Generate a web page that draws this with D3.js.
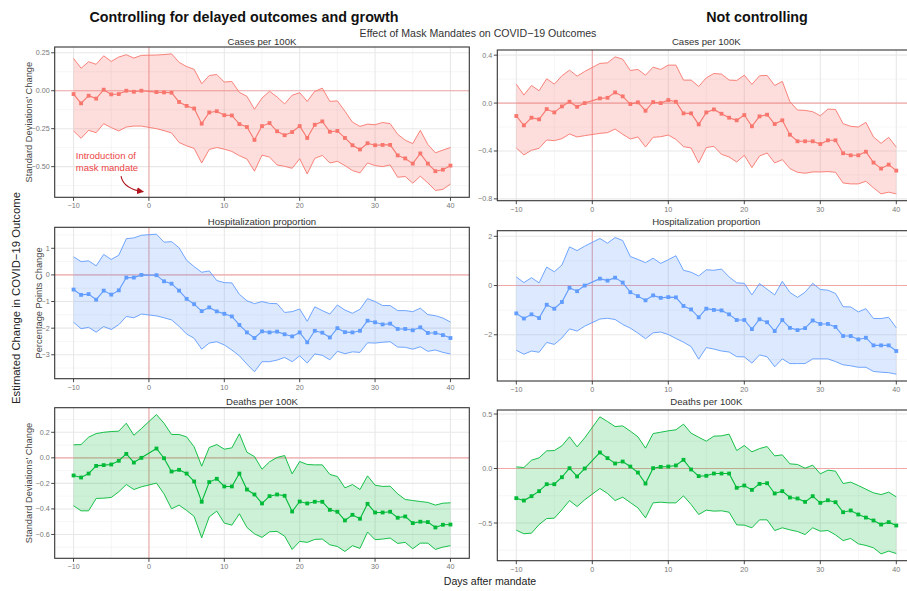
<!DOCTYPE html>
<html><head><meta charset="utf-8">
<script src="https://cdn.jsdelivr.net/npm/d3@7/dist/d3.min.js"></script>
<style>body{margin:0;background:#fff}svg text{font-family:"Liberation Sans",Arial,Helvetica,sans-serif}</style>
</head><body><svg id="c" width="907" height="591"></svg>
<script>
// ---------------- DATA ----------------
const days = [-10,-9,-8,-7,-6,-5,-4,-3,-2,-1,1,2,3,4,5,6,7,8,9,10,11,12,13,14,15,16,17,18,19,20,21,22,23,24,25,26,27,28,29,30,31,32,33,34,35,36,37,38,39,40];
const xTicks = [-10,0,10,20,30,40];

// Cases per 100K, controlling
const casesCtrlMid = [-0.022,-0.083,-0.033,-0.052,0.007,-0.024,-0.022,0.0,-0.007,0.0,
 -0.009,-0.011,-0.013,-0.074,-0.1,-0.117,-0.217,-0.143,-0.135,-0.161,-0.163,-0.22,-0.239,-0.324,-0.233,-0.213,-0.267,-0.293,-0.272,-0.233,-0.311,-0.224,-0.202,-0.27,-0.265,-0.311,-0.359,-0.387,-0.346,-0.359,-0.357,-0.357,-0.426,-0.446,-0.48,-0.413,-0.48,-0.53,-0.52,-0.493];
const casesCtrlHi = [0.213,0.148,0.191,0.174,0.23,0.193,0.222,0.237,0.215,0.233,
 0.235,0.238,0.243,0.187,0.159,0.141,0.046,0.1,0.107,0.057,0.061,-0.011,-0.037,-0.122,-0.048,-0.004,-0.041,-0.087,-0.03,-0.013,-0.07,-0.004,0.017,-0.07,-0.067,-0.135,-0.207,-0.235,-0.22,-0.224,-0.209,-0.217,-0.287,-0.326,-0.348,-0.261,-0.354,-0.409,-0.391,-0.374];
const casesCtrlLo = [-0.265,-0.313,-0.261,-0.276,-0.217,-0.243,-0.265,-0.239,-0.233,-0.233,
 -0.25,-0.263,-0.278,-0.341,-0.363,-0.38,-0.476,-0.387,-0.374,-0.385,-0.4,-0.428,-0.45,-0.53,-0.424,-0.437,-0.489,-0.498,-0.511,-0.448,-0.548,-0.446,-0.426,-0.476,-0.465,-0.493,-0.526,-0.541,-0.476,-0.493,-0.5,-0.489,-0.57,-0.565,-0.609,-0.563,-0.607,-0.657,-0.65,-0.615];

// Cases per 100K, not controlling
const casesRawMid = [-0.108,-0.186,-0.122,-0.136,-0.05,-0.078,-0.028,0.011,-0.031,0,
 0.039,0.044,0.089,0.056,-0.008,0.006,-0.064,0.008,0,0.025,0.011,-0.086,-0.086,-0.178,-0.078,-0.053,-0.089,-0.122,-0.144,-0.1,-0.194,-0.111,-0.097,-0.175,-0.144,-0.264,-0.319,-0.319,-0.319,-0.342,-0.311,-0.311,-0.419,-0.436,-0.436,-0.406,-0.497,-0.547,-0.514,-0.564];
const casesRawHi = [0.158,0.067,0.147,0.103,0.203,0.158,0.228,0.275,0.225,0.264,
 0.331,0.336,0.386,0.367,0.272,0.281,0.233,0.3,0.281,0.317,0.317,0.192,0.192,0.139,0.211,0.247,0.242,0.192,0.189,0.233,0.156,0.228,0.231,0.147,0.181,0.011,-0.058,-0.061,-0.072,-0.106,-0.05,-0.053,-0.172,-0.194,-0.2,-0.161,-0.283,-0.336,-0.286,-0.369];
const casesRawLo = [-0.375,-0.433,-0.394,-0.378,-0.308,-0.314,-0.297,-0.258,-0.283,-0.272,
 -0.253,-0.247,-0.217,-0.261,-0.3,-0.283,-0.367,-0.286,-0.281,-0.267,-0.303,-0.364,-0.375,-0.5,-0.372,-0.361,-0.428,-0.45,-0.492,-0.436,-0.539,-0.442,-0.417,-0.5,-0.472,-0.547,-0.578,-0.586,-0.575,-0.575,-0.572,-0.578,-0.667,-0.675,-0.675,-0.653,-0.708,-0.758,-0.744,-0.758];

// Hospitalization proportion, controlling
const hospCtrlMid = [-0.55,-0.75,-0.72,-0.93,-0.59,-0.74,-0.58,-0.1,-0.1,0,
 -0.01,-0.24,-0.33,-0.59,-0.9,-1.1,-1.36,-1.22,-1.37,-1.46,-1.56,-1.88,-2.16,-2.37,-2.12,-2.16,-2.13,-2.23,-2.31,-2.16,-2.53,-2.1,-2.17,-2.35,-2.0,-2.15,-2.16,-2.1,-1.72,-1.78,-1.86,-1.83,-2.03,-2.03,-2.08,-1.97,-2.18,-2.18,-2.26,-2.37];
const hospCtrlHi = [0.68,0.5,0.53,0.34,0.77,0.58,0.74,1.36,1.39,1.49,
 1.53,1.23,1.25,1.02,0.55,0.31,0.1,0.15,-0.21,-0.29,-0.3,-0.73,-0.97,-1.08,-1.0,-1.07,-1.08,-1.41,-1.38,-1.28,-1.74,-1.2,-1.34,-1.47,-1.13,-1.32,-1.44,-1.29,-0.89,-1.0,-1.15,-1.15,-1.34,-1.34,-1.38,-1.25,-1.49,-1.53,-1.62,-1.77];
const hospCtrlLo = [-1.78,-2.02,-1.97,-2.15,-1.94,-2.05,-1.87,-1.56,-1.61,-1.47,
 -1.54,-1.61,-1.69,-1.93,-2.22,-2.38,-2.79,-2.56,-2.51,-2.63,-2.82,-3.04,-3.35,-3.64,-3.26,-3.26,-3.2,-3.1,-3.26,-3.04,-3.31,-2.97,-3.02,-3.19,-2.87,-2.96,-2.89,-2.91,-2.55,-2.56,-2.53,-2.51,-2.71,-2.72,-2.79,-2.7,-2.87,-2.82,-2.91,-2.97];

// Hospitalization proportion, not controlling
const hospRawMid = [-1.13,-1.34,-1.17,-1.32,-0.78,-0.94,-0.67,-0.09,-0.23,0,
 0.28,0.2,0.32,0.12,-0.27,-0.43,-0.6,-0.4,-0.5,-0.47,-0.48,-0.83,-0.97,-1.29,-0.94,-0.99,-1.01,-1.17,-1.4,-1.4,-1.77,-1.37,-1.49,-1.85,-1.4,-1.72,-1.81,-1.73,-1.42,-1.56,-1.56,-1.68,-2.05,-2.05,-2.19,-2.12,-2.43,-2.43,-2.43,-2.66];
const hospRawHi = [0.35,0.12,0.32,0.11,0.75,0.56,0.83,1.57,1.42,1.6,
 1.91,1.72,1.95,1.83,1.18,1.06,0.93,1.11,0.9,1.05,1.21,0.62,0.54,0.39,0.64,0.62,0.67,0.35,0.11,0.09,-0.38,0.08,-0.15,-0.38,0.17,-0.28,-0.48,-0.27,0.09,-0.16,-0.19,-0.32,-0.86,-0.87,-1.07,-0.94,-1.34,-1.34,-1.29,-1.72];
const hospRawLo = [-2.63,-2.79,-2.66,-2.71,-2.31,-2.39,-2.13,-1.76,-1.85,-1.65,
 -1.36,-1.33,-1.38,-1.58,-1.73,-1.93,-2.16,-1.92,-1.89,-1.99,-2.15,-2.3,-2.48,-2.99,-2.52,-2.58,-2.66,-2.7,-2.89,-2.9,-3.15,-2.82,-2.89,-3.3,-2.98,-3.17,-3.17,-3.17,-2.98,-2.98,-2.98,-3.09,-3.22,-3.26,-3.32,-3.32,-3.49,-3.52,-3.54,-3.6];

// Deaths per 100K, controlling
const deathsCtrlMid = [-0.138,-0.154,-0.123,-0.063,-0.057,-0.052,-0.023,0.031,-0.037,0,
 0.073,-0.003,-0.107,-0.094,-0.123,-0.185,-0.344,-0.19,-0.164,-0.224,-0.224,-0.123,-0.248,-0.287,-0.357,-0.3,-0.287,-0.297,-0.42,-0.342,-0.357,-0.344,-0.344,-0.407,-0.422,-0.49,-0.446,-0.477,-0.36,-0.428,-0.428,-0.422,-0.469,-0.459,-0.511,-0.5,-0.503,-0.545,-0.524,-0.522];
const deathsCtrlHi = [0.102,0.104,0.162,0.19,0.2,0.206,0.209,0.271,0.177,0.229,
 0.339,0.271,0.183,0.183,0.164,0.086,-0.065,0.081,0.104,0.068,0.078,0.188,0.044,0.01,-0.089,-0.031,0.003,0.018,-0.125,-0.029,-0.052,-0.055,-0.055,-0.13,-0.146,-0.235,-0.209,-0.248,-0.141,-0.214,-0.224,-0.222,-0.282,-0.326,-0.334,-0.342,-0.349,-0.37,-0.355,-0.352];
const deathsCtrlLo = [-0.375,-0.415,-0.415,-0.318,-0.316,-0.31,-0.266,-0.209,-0.248,-0.227,
 -0.198,-0.282,-0.399,-0.37,-0.412,-0.459,-0.626,-0.462,-0.417,-0.511,-0.527,-0.438,-0.545,-0.595,-0.623,-0.579,-0.576,-0.613,-0.717,-0.654,-0.662,-0.639,-0.636,-0.681,-0.694,-0.733,-0.688,-0.709,-0.581,-0.641,-0.636,-0.628,-0.67,-0.662,-0.712,-0.668,-0.668,-0.717,-0.699,-0.688];

// Deaths per 100K, not controlling
const deathsRawMid = [-0.272,-0.294,-0.254,-0.208,-0.144,-0.144,-0.08,0.003,-0.073,0,
 0.147,0.095,0.046,0.064,0.018,-0.037,-0.138,0.003,0.015,0.018,0.028,0.08,-0.009,-0.07,-0.067,-0.046,-0.046,-0.046,-0.177,-0.156,-0.196,-0.141,-0.135,-0.229,-0.208,-0.266,-0.275,-0.306,-0.254,-0.315,-0.291,-0.309,-0.401,-0.385,-0.422,-0.45,-0.477,-0.514,-0.492,-0.523];
const deathsRawHi = [0.015,0.009,0.076,0.098,0.162,0.165,0.208,0.291,0.199,0.281,
 0.474,0.431,0.385,0.391,0.343,0.291,0.187,0.321,0.333,0.346,0.355,0.407,0.324,0.287,0.251,0.297,0.3,0.315,0.165,0.211,0.153,0.183,0.202,0.116,0.125,0.043,0.037,0.003,0.031,-0.049,-0.015,-0.024,-0.138,-0.125,-0.156,-0.19,-0.223,-0.239,-0.217,-0.26];
const deathsRawLo = [-0.566,-0.599,-0.593,-0.514,-0.459,-0.456,-0.379,-0.294,-0.349,-0.287,
 -0.183,-0.229,-0.294,-0.263,-0.312,-0.361,-0.453,-0.315,-0.309,-0.315,-0.315,-0.251,-0.33,-0.422,-0.382,-0.391,-0.388,-0.401,-0.517,-0.52,-0.544,-0.471,-0.471,-0.569,-0.544,-0.563,-0.578,-0.606,-0.544,-0.575,-0.569,-0.609,-0.661,-0.642,-0.691,-0.706,-0.728,-0.783,-0.758,-0.78];

const yTicksCasesCtrl = [-0.5,-0.25,0,0.25];
const yTicksCasesRaw = [-0.8,-0.4,0,0.4];
const yTicksHospCtrl = [-3,-2,-1,0,1];
const yTicksHospRaw = [-2,0,2];
const yTicksDeathsCtrl = [-0.6,-0.4,-0.2,0,0.2];
const yTicksDeathsRaw = [-0.5,0,0.5];

const panelTitles = ["Cases per 100K","Hospitalization proportion","Deaths per 100K"];
const rowYTitles = ["Standard Deviations\u2019 Change","Percentage Points Change","Standard Deviations\u2019 Change"];
const columnTitles = ["Controlling for delayed outcomes and growth","Not controlling"];
const mainTitle = "Effect of Mask Mandates on COVID\u221219 Outcomes";
const yTitleAll = "Estimated Change in COVID\u221219 Outcome";
const xTitleAll = "Days after mandate";
const annotLines = ["Introduction of","mask mandate"];
// annotation anchor in data units of the first panel
const annotText = {day:-9.7, v1:-0.45, v2:-0.527};
const annotArrow = {from:[-3.7,-0.562], ctrl:[-3.4,-0.645], to:[-0.75,-0.665]};

// ---------------- LAYOUT ----------------
const colX = [[54.7,469.3],[497.3,915.3]];
const rowYLeft = [[47,197.3],[227.3,378.7],[407.7,558.3]];
const rowYRight = [[50,200.7],[230.7,381],[410,560.7]];
const stripBaseline = [44.5,224.5,404.8];
const yTitleX = [29,39,29];

const colors = ["#F8766D","#619CFF","#00BA38"];
const fillOpacity = [0.24,0.22,0.2];

const panels = [
 {col:0,row:0,mid:casesCtrlMid,hi:casesCtrlHi,lo:casesCtrlLo,ticks:yTicksCasesCtrl,fmt:".2f"},
 {col:1,row:0,mid:casesRawMid,hi:casesRawHi,lo:casesRawLo,ticks:yTicksCasesRaw,fmt:".1f"},
 {col:0,row:1,mid:hospCtrlMid,hi:hospCtrlHi,lo:hospCtrlLo,ticks:yTicksHospCtrl,fmt:"d"},
 {col:1,row:1,mid:hospRawMid,hi:hospRawHi,lo:hospRawLo,ticks:yTicksHospRaw,fmt:"d"},
 {col:0,row:2,mid:deathsCtrlMid,hi:deathsCtrlHi,lo:deathsCtrlLo,ticks:yTicksDeathsCtrl,fmt:".1f"},
 {col:1,row:2,mid:deathsRawMid,hi:deathsRawHi,lo:deathsRawLo,ticks:yTicksDeathsRaw,fmt:".1f"}
];

const svg = d3.select("#c");
svg.append("rect").attr("width",907).attr("height",591).attr("fill","#fff");
const defs = svg.append("defs");
defs.append("marker").attr("id","arr").attr("viewBox","0 0 10 10").attr("refX",9).attr("refY",5)
  .attr("markerWidth",7).attr("markerHeight",7).attr("markerUnits","userSpaceOnUse").attr("orient","auto")
  .append("path").attr("d","M0,0L10,5L0,10z").attr("fill","#B0141C");

const xDomain = [-12.5, 42.5];

panels.forEach((p,i)=>{
  const [x0,x1] = colX[p.col];
  const [y0,y1] = (p.col===0?rowYLeft:rowYRight)[p.row];
  const color = colors[p.row];
  const x = d3.scaleLinear().domain(xDomain).range([x0,x1]);
  const ext = d3.extent(p.lo.concat(p.hi, p.mid, [0]));
  const pad = (ext[1]-ext[0])*0.05;
  const y = d3.scaleLinear().domain([ext[0]-pad, ext[1]+pad]).range([y1,y0]);
  const g = svg.append("g");
  const cid = "clip"+i;
  defs.append("clipPath").attr("id",cid).append("rect").attr("x",x0).attr("y",y0).attr("width",x1-x0).attr("height",y1-y0);
  const pg = g.append("g").attr("clip-path",`url(#${cid})`);

  // minor grid
  const step = p.ticks[1]-p.ticks[0];
  const yMinor = [];
  for (let k=-1;k<p.ticks.length;k++){ const v = p.ticks[0]+step*(k+0.5); if (v>y.domain()[0] && v<y.domain()[1]) yMinor.push(v); }
  const xMinor = [-15,-5,5,15,25,35,45].filter(v=>v>xDomain[0]&&v<xDomain[1]);
  pg.selectAll(null).data(yMinor).join("line").attr("x1",x0).attr("x2",x1).attr("y1",d=>y(d)).attr("y2",d=>y(d)).attr("stroke","#F0F0F0").attr("stroke-width",0.6);
  pg.selectAll(null).data(xMinor).join("line").attr("y1",y0).attr("y2",y1).attr("x1",d=>x(d)).attr("x2",d=>x(d)).attr("stroke","#F0F0F0").attr("stroke-width",0.6);
  pg.selectAll(null).data(p.ticks).join("line").attr("x1",x0).attr("x2",x1).attr("y1",d=>y(d)).attr("y2",d=>y(d)).attr("stroke","#E8E8E8").attr("stroke-width",1.1);
  pg.selectAll(null).data(xTicks).join("line").attr("y1",y0).attr("y2",y1).attr("x1",d=>x(d)).attr("x2",d=>x(d)).attr("stroke","#E8E8E8").attr("stroke-width",1.1);

  // reference lines
  pg.append("line").attr("x1",x0).attr("x2",x1).attr("y1",y(0)).attr("y2",y(0)).attr("stroke","#F47C7C").attr("stroke-opacity",0.6).attr("stroke-width",1.1);
  pg.append("line").attr("y1",y0).attr("y2",y1).attr("x1",x(0)).attr("x2",x(0)).attr("stroke","#F47C7C").attr("stroke-opacity",0.6).attr("stroke-width",1.1);

  const rows = days.map((d,j)=>({day:d, mid:p.mid[j], lo:p.lo[j], hi:p.hi[j]}));
  pg.append("path").datum(rows).attr("d", d3.area().x(d=>x(d.day)).y0(d=>y(d.lo)).y1(d=>y(d.hi)))
    .attr("fill",color).attr("fill-opacity",fillOpacity[p.row]);
  ["lo","hi"].forEach(k=>{
    pg.append("path").datum(rows).attr("d", d3.line().x(d=>x(d.day)).y(d=>y(d[k])))
      .attr("fill","none").attr("stroke",color).attr("stroke-width",0.9);
  });
  pg.append("path").datum(rows).attr("d", d3.line().x(d=>x(d.day)).y(d=>y(d.mid)))
    .attr("fill","none").attr("stroke",color).attr("stroke-width",1.1);
  const s = 3.8;
  pg.selectAll(null).data(rows).join("rect").attr("x",d=>x(d.day)-s/2).attr("y",d=>y(d.mid)-s/2)
    .attr("width",s).attr("height",s).attr("fill",color);

  // border
  g.append("rect").attr("x",x0).attr("y",y0).attr("width",x1-x0).attr("height",y1-y0)
    .attr("fill","none").attr("stroke","#333").attr("stroke-width",1.1);

  // axes ticks + labels
  const fmt = d3.format(p.fmt);
  g.selectAll(null).data(p.ticks).join("line").attr("x1",x0-3.5).attr("x2",x0).attr("y1",d=>y(d)).attr("y2",d=>y(d)).attr("stroke","#333").attr("stroke-width",0.9);
  g.selectAll(null).data(p.ticks).join("text").attr("x",x0-5).attr("y",d=>y(d)).attr("dy","0.35em")
    .attr("text-anchor","end").attr("font-size",7.2).attr("fill","#777").text(d=>fmt(d));
  g.selectAll(null).data(xTicks).join("line").attr("y1",y1).attr("y2",y1+3.5).attr("x1",d=>x(d)).attr("x2",d=>x(d)).attr("stroke","#333").attr("stroke-width",0.9);
  g.selectAll(null).data(xTicks).join("text").attr("x",d=>x(d)).attr("y",y1+11)
    .attr("text-anchor","middle").attr("font-size",7.2).attr("fill","#777").text(d=>d3.format("d")(d));

  // strip title
  g.append("text").attr("x",(x0+x1)/2).attr("y",stripBaseline[p.row]).attr("text-anchor","middle")
    .attr("font-size",9.6).attr("fill","#333").text(panelTitles[p.row]);

  if (p.col===0){
    g.append("text").attr("transform",`translate(${yTitleX[p.row]},${(y0+y1)/2}) rotate(-90)`).attr("dy","0.35em")
      .attr("text-anchor","middle").attr("font-size",9.3).attr("fill","#444").text(rowYTitles[p.row]);
  }
  if (i===0){
    const tg = g.append("g").attr("fill","#EC4545").attr("font-size",9.5);
    tg.append("text").attr("x",x(annotText.day)).attr("y",y(annotText.v1)).text(annotLines[0]);
    tg.append("text").attr("x",x(annotText.day)).attr("y",y(annotText.v2)).text(annotLines[1]);
    const a = annotArrow;
    const path = d3.path();
    path.moveTo(x(a.from[0]),y(a.from[1]));
    path.quadraticCurveTo(x(a.ctrl[0]),y(a.ctrl[1]),x(a.to[0]),y(a.to[1]));
    g.append("path").attr("d",path.toString()).attr("fill","none").attr("stroke","#B0141C").attr("stroke-width",1.1).attr("marker-end","url(#arr)");
  }
});

// global texts
svg.append("text").attr("x",244).attr("y",22).attr("text-anchor","middle").attr("font-size",14.3).attr("font-weight","bold").attr("fill","#111").text(columnTitles[0]);
svg.append("text").attr("x",757).attr("y",22).attr("text-anchor","middle").attr("font-size",14.3).attr("font-weight","bold").attr("fill","#111").text(columnTitles[1]);
svg.append("text").attr("x",478).attr("y",36.5).attr("text-anchor","middle").attr("font-size",10.6).attr("fill","#333").text(mainTitle);
svg.append("text").attr("transform","translate(16,298) rotate(-90)").attr("dy","0.35em").attr("text-anchor","middle").attr("font-size",11.3).attr("fill","#222").text(yTitleAll);
svg.append("text").attr("x",490).attr("y",585).attr("text-anchor","middle").attr("font-size",10.6).attr("fill","#222").text(xTitleAll);
</script></body></html>
